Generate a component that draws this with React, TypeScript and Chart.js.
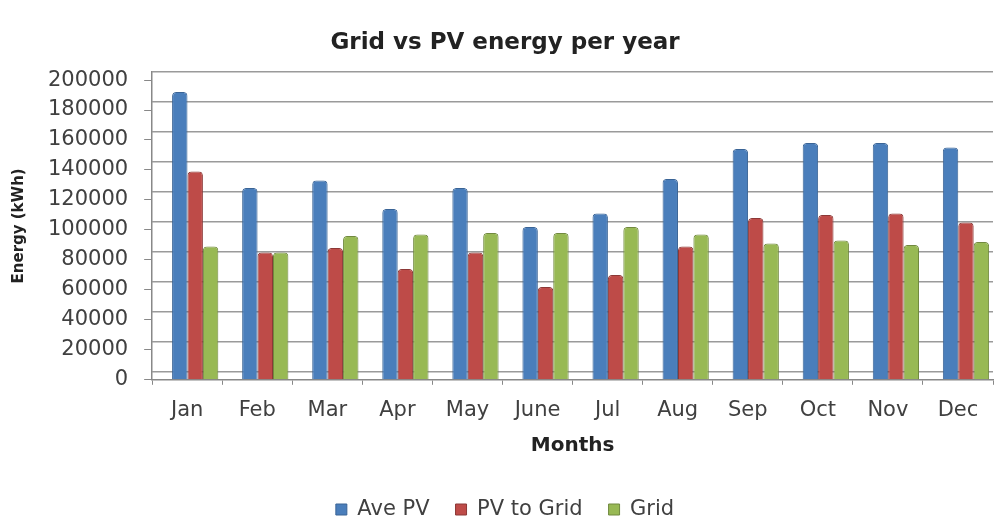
import React, { useEffect, useRef } from "react";
import { Chart, registerables } from "chart.js";

Chart.register(...registerables);

const months = ["Jan", "Feb", "Mar", "Apr", "May", "June", "Jul", "Aug", "Sep", "Oct", "Nov", "Dec"];
const avePV = [192000, 128000, 133000, 114000, 128000, 102000, 111000, 134000, 154000, 158000, 158000, 155000];
const pvToGrid = [139000, 85000, 88000, 74000, 85000, 62000, 70000, 89000, 108000, 110000, 111000, 105000];
const grid = [89000, 85000, 96000, 97000, 98000, 98000, 102000, 97000, 91000, 93000, 90000, 92000];
const yTickValues = [0, 20000, 40000, 60000, 80000, 100000, 120000, 140000, 160000, 180000, 200000];

const FONT = "'DejaVu Sans', sans-serif";

const shiftPlugin = {
  id: "shiftBars",
  beforeDatasetsDraw(chart: any) {
    chart.ctx.save();
    chart.ctx.translate(8, 0);
  },
  afterDatasetsDraw(chart: any) {
    chart.ctx.restore();
  },
};

export default function App() {
  const ref = useRef<HTMLCanvasElement>(null);

  useEffect(() => {
    if (!ref.current) return;
    const radius = { topLeft: 4, topRight: 4, bottomLeft: 0, bottomRight: 0 };
    const chart = new Chart(ref.current, {
      type: "bar",
      data: {
        labels: months,
        datasets: [
          { label: "Ave PV", data: avePV, backgroundColor: "#4A7EBB", borderColor: "#3A6496", borderWidth: 1, borderRadius: radius, borderSkipped: "bottom" },
          { label: "PV to Grid", data: pvToGrid, backgroundColor: "#BE4B48", borderColor: "#8C3836", borderWidth: 1, borderRadius: radius, borderSkipped: "bottom" },
          { label: "Grid", data: grid, backgroundColor: "#98B954", borderColor: "#71893F", borderWidth: 1, borderRadius: radius, borderSkipped: "bottom" },
        ],
      },
      options: {
        responsive: false,
        animation: false,
        devicePixelRatio: 1,
        layout: { padding: { left: 17, right: 10, top: 0, bottom: 0 } },
        datasets: { bar: { categoryPercentage: 0.66, barPercentage: 1.0 } },
        plugins: {
          title: {
            display: true,
            text: "Grid vs PV energy per year",
            color: "#222",
            font: { family: FONT, size: 23, weight: "bold", lineHeight: 1.2 },
            padding: { top: 29, bottom: 15.4 },
          },
          legend: {
            position: "bottom",
            labels: {
              color: "#404040",
              font: { family: FONT, size: 21 },
              boxWidth: 11,
              boxHeight: 11,
              padding: 26,
            },
          },
          tooltip: { enabled: false },
        },
        scales: {
          x: {
            type: "category",
            grid: { drawOnChartArea: false, drawTicks: true, tickLength: 5, color: "#888", offset: true },
            border: { display: true, color: "#888", width: 1.5 },
            ticks: { color: "#404040", font: { family: FONT, size: 21, lineHeight: 1.2 }, padding: 13, maxRotation: 0, autoSkip: false },
            title: {
              display: true,
              text: "Months",
              color: "#222",
              font: { family: FONT, size: 20, weight: "bold", lineHeight: 1.2 },
              padding: { top: -2, bottom: 15 },
            },
          },
          y: {
            type: "linear",
            position: "left",
            min: 0,
            max: 205369,
            afterBuildTicks: (axis: any) => {
              axis.ticks = yTickValues.map((v) => ({ value: v }));
            },
            grid: { drawOnChartArea: false, drawTicks: true, tickLength: 8, color: "#888" },
            border: { display: true, color: "#888", width: 1.5 },
            ticks: {
              color: "#404040",
              font: { family: FONT, size: 21 },
              padding: 16,
              callback: (v: any) => String(v),
            },
            title: {
              display: true,
              text: "Energy (kWh)",
              color: "#222",
              font: { family: FONT, size: 15, weight: "bold", lineHeight: 1.2 },
              padding: { top: -7, bottom: 4 },
            },
          },
          yg: {
            type: "linear",
            position: "right",
            min: -5369,
            max: 200000,
            afterBuildTicks: (axis: any) => {
              axis.ticks = yTickValues.map((v) => ({ value: v }));
            },
            grid: { drawOnChartArea: true, drawTicks: false, color: "#9a9a9a", lineWidth: 1.5 },
            border: { display: false },
            ticks: { display: false },
          },
        },
      },
      plugins: [shiftPlugin],
    });
    return () => chart.destroy();
  }, []);

  return (
    <div style={{ position: "absolute", left: 0, top: 0, width: 1003, height: 523, overflow: "hidden", background: "#fff" }}>
      <canvas ref={ref} width={1003} height={530} style={{ display: "block" }} />
    </div>
  );
}
